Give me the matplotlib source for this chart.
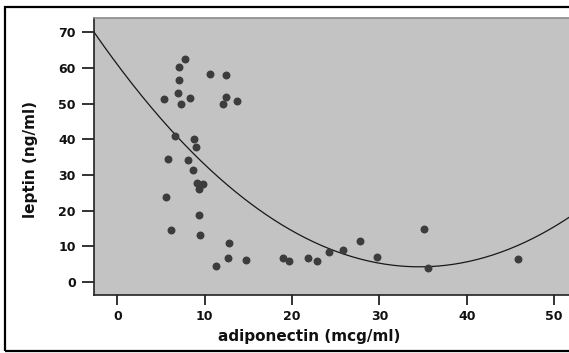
import matplotlib
matplotlib.use("Agg")
import matplotlib.pyplot as plt
import numpy as np
from matplotlib.patches import Rectangle

# Data
adiponectin = [7.75, 7.1, 7.1, 7.0, 5.3, 8.3, 7.3, 10.6, 12.4, 12.4, 12.1, 13.7,
               6.6, 8.8, 9.0, 5.8, 8.1, 8.7, 9.1, 9.8, 9.4, 5.6, 9.3, 6.1, 9.5,
               12.8, 12.7, 14.7, 11.3, 19.0, 19.6, 21.8, 22.9, 24.2, 25.8, 27.8,
               29.7, 35.1, 35.6, 45.9]
leptin = [62.5, 60.2, 56.6, 53.1, 51.3, 51.5, 49.9, 58.3, 57.9, 51.7, 49.9, 50.6,
          40.9, 40.0, 37.9, 34.5, 34.2, 31.4, 27.8, 27.3, 26.0, 23.7, 18.7, 14.4, 13.1,
          11.0, 6.7, 6.1, 4.5, 6.8, 5.7, 6.7, 5.9, 8.4, 8.8, 11.5,
          7.0, 14.8, 3.8, 6.3]
# quadratic fit curve coefficients (a*x^2 + b*x + c)
fit_coeffs = [0.0474, -3.28, 60.95]
x_ticks = [0, 10, 20, 30, 40, 50]
y_ticks = [0, 10, 20, 30, 40, 50, 60, 70]

W, H = 569, 353
fig = plt.figure(figsize=(W / 100, H / 100), dpi=100)
fig.patch.set_facecolor("white")

left, right, top, bottom = 94, 569, 18, 295
ax = fig.add_axes([left / W, 1 - bottom / H, (right - left) / W, (bottom - top) / H])
ax.set_facecolor("#c3c3c3")

xmin, xmax = -2.67, 51.7
ymin, ymax = -3.7, 74.0
ax.set_xlim(xmin, xmax)
ax.set_ylim(ymin, ymax)

xs = np.linspace(xmin, xmax, 300)
ax.plot(xs, np.polyval(fit_coeffs, xs), color="#181818", lw=0.9, zorder=2)
ax.plot(adiponectin, leptin, linestyle="none", marker="o", markersize=4.7,
        markerfacecolor="#3c3c3c", markeredgecolor="#3c3c3c", zorder=3)

ax.set_xticks(x_ticks)
ax.set_yticks(y_ticks)
for lab in ax.get_xticklabels() + ax.get_yticklabels():
    lab.set_fontweight("bold")
ax.tick_params(axis="y", direction="out", length=8.5, width=1.2, pad=4.5,
               labelsize=9, colors="#111111")
ax.tick_params(axis="x", direction="out", length=7.5, width=1.2, pad=3,
               labelsize=9, colors="#111111")

for s in ["left", "bottom"]:
    ax.spines[s].set_color("#222222")
    ax.spines[s].set_linewidth(1.2)
ax.spines["top"].set_color("#8a8a8a")
ax.spines["top"].set_linewidth(1.2)
ax.spines["right"].set_visible(False)

ax.set_xlabel("adiponectin (mcg/ml)", fontsize=11, fontweight="bold", color="#111111")
ax.xaxis.label.set_va("center")
ax.xaxis.set_label_coords((309 - left) / (right - left), -(337 - bottom) / (bottom - top))
ax.set_ylabel("leptin (ng/ml)", fontsize=11, fontweight="bold", color="#111111")
ax.yaxis.label.set_va("center")
ax.yaxis.set_label_coords(-(left - 30) / (right - left), (bottom - 160) / (bottom - top))

# outer frame
fig.patches.append(Rectangle((5 / W, 1 - 351 / H), 600 / W, (351 - 7) / H,
                             transform=fig.transFigure, fill=False,
                             edgecolor="black", linewidth=1.6))

fig.savefig("out.png", dpi=100)
